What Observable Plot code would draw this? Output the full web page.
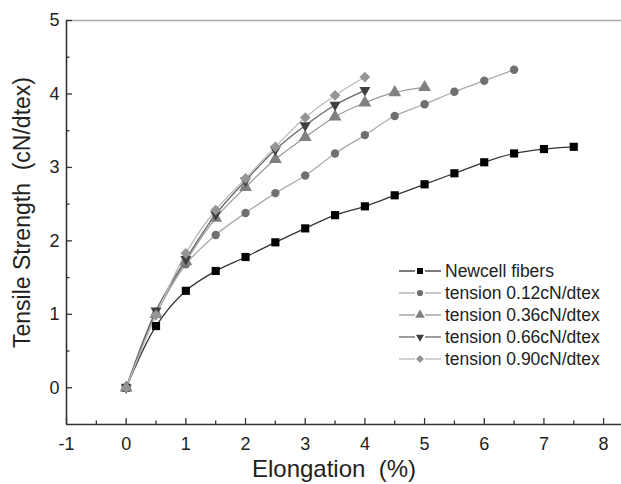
<!DOCTYPE html>
<html>
<head>
<meta charset="utf-8">
<script src="https://cdn.jsdelivr.net/npm/d3@7"></script>
<script src="https://cdn.jsdelivr.net/npm/@observablehq/plot@0.6"></script>
<style>
  html, body { margin: 0; padding: 0; background: #fff; }
  #wrap { position: relative; width: 621px; height: 484px; font-family: "Liberation Sans", Arial, sans-serif; }
  #legend { position: absolute; left: 399px; top: 260px; color: #222; font-size: 17.5px; }
  .row { display: flex; align-items: center; height: 22px; }
  .row svg { width: 42px; height: 22px; margin-right: 4px; }
</style>
</head>
<body>
<div id="wrap"></div>
<script>
// ---- data ----
const seriesNames = ["Newcell fibers", "tension 0.12cN/dtex", "tension 0.36cN/dtex", "tension 0.66cN/dtex", "tension 0.90cN/dtex"];
const xNewcell = [0, 0.5, 1, 1.5, 2, 2.5, 3, 3.5, 4, 4.5, 5, 5.5, 6, 6.5, 7, 7.5];
const yNewcell = [0, 0.84, 1.32, 1.59, 1.78, 1.98, 2.17, 2.35, 2.47, 2.62, 2.77, 2.92, 3.07, 3.19, 3.25, 3.28];
const x012 = [0, 0.5, 1, 1.5, 2, 2.5, 3, 3.5, 4, 4.5, 5, 5.5, 6, 6.5];
const y012 = [0, 1.0, 1.68, 2.08, 2.38, 2.65, 2.89, 3.19, 3.44, 3.70, 3.86, 4.03, 4.18, 4.33];
const x036 = [0, 0.5, 1, 1.5, 2, 2.5, 3, 3.5, 4, 4.5, 5];
const y036 = [0, 1.0, 1.72, 2.31, 2.73, 3.11, 3.41, 3.69, 3.88, 4.02, 4.09];
const x066 = [0, 0.5, 1, 1.5, 2, 2.5, 3, 3.5, 4];
const y066 = [0, 1.05, 1.75, 2.36, 2.82, 3.24, 3.57, 3.85, 4.05];
const x090 = [0, 0.5, 1, 1.5, 2, 2.5, 3, 3.5, 4];
const y090 = [0, 0.99, 1.83, 2.42, 2.85, 3.28, 3.68, 3.98, 4.23];
const xTicks = [-1, 0, 1, 2, 3, 4, 5, 6, 7, 8];
const xMinor = [-0.5, 0.5, 1.5, 2.5, 3.5, 4.5, 5.5, 6.5, 7.5];
const yTicks = [0, 1, 2, 3, 4, 5];
const yMinor = [0.5, 1.5, 2.5, 3.5, 4.5];
const xTitle = "Elongation \u00a0(%)";
const yTitle = "Tensile Strength \u00a0(cN/dtex)";

// ---- styles ----
const triDown = {draw(ctx, size) { const s = Math.sqrt(size / 0.6); const h = s * Math.sqrt(3) / 2; ctx.moveTo(-s/2, -h/3); ctx.lineTo(s/2, -h/3); ctx.lineTo(0, 2*h/3); ctx.closePath(); }};
const styles = [
  {symbol: d3.symbolSquare, fill: "#000", line: "#333", r: 4.6},
  {symbol: d3.symbolCircle, fill: "#707070", line: "#aaa", r: 4.2},
  {symbol: d3.symbolTriangle, fill: "#808080", line: "#9a9a9a", r: 4.8},
  {symbol: triDown, fill: "#404040", line: "#666", r: 4.8},
  {symbol: d3.symbolDiamond2, fill: "#959595", line: "#bbb", r: 4.8}
];

const xs = [xNewcell, x012, x036, x066, x090];
const ys = [yNewcell, y012, y036, y066, y090];
const data = seriesNames.map((name, i) => xs[i].map((x, j) => ({name, x, y: ys[i][j]})));

const W = 621, H = 484, mL = 66, mR = 0, mT = 20, mB = 60;
const pw = W - mL - mR, ph = H - mT - mB;
const font = "Liberation Sans, Arial, sans-serif";
const fmt = d => (d < 0 ? "-" : "") + Math.abs(d);

const marks = [];
marks.push(Plot.ruleY([5], {stroke: "#aaa", strokeWidth: 1.5}));
data.forEach((d, i) => {
  marks.push(Plot.line(d, {x: "x", y: "y", stroke: styles[i].line, strokeWidth: 1.3, curve: "catmull-rom"}));
});
data.forEach((d, i) => {
  marks.push(Plot.dot(d, {x: "x", y: "y", symbol: () => styles[i].symbol, r: styles[i].r, fill: styles[i].fill, stroke: "none"}));
});
marks.push(Plot.ruleX(xTicks, {x: d => d, stroke: "#333", strokeWidth: 1.3, insetTop: ph - 6}));
marks.push(Plot.ruleX(xMinor, {x: d => d, stroke: "#333", strokeWidth: 1.3, insetTop: ph - 3.5}));
marks.push(Plot.ruleY(yTicks, {y: d => d, stroke: "#333", strokeWidth: 1.3, insetRight: pw - 6}));
marks.push(Plot.ruleY(yMinor, {y: d => d, stroke: "#333", strokeWidth: 1.3, insetRight: pw - 3.5}));
marks.push(Plot.ruleX([-1], {stroke: "#333", strokeWidth: 1.6}));
marks.push(Plot.ruleY([-0.5], {stroke: "#333", strokeWidth: 1.6}));
marks.push(Plot.axisX(xTicks, {tickSize: 0, tickPadding: 13, fontSize: 18, fill: "#222", label: null, tickFormat: fmt}));
marks.push(Plot.axisY(yTicks, {tickSize: 0, tickPadding: 7, fontSize: 18, fill: "#222", label: null, tickFormat: fmt}));
marks.push(Plot.text([xTitle], {frameAnchor: "bottom", textAnchor: "middle", lineAnchor: "middle", dx: -10, dy: 45, fontSize: 24, fill: "#222", text: d => d}));
marks.push(Plot.text([yTitle], {frameAnchor: "left", textAnchor: "middle", lineAnchor: "middle", rotate: -90, dx: -44, dy: -10, fontSize: 23, fill: "#222", text: d => d}));

const chart = Plot.plot({
  width: W, height: H,
  marginLeft: mL, marginRight: mR, marginTop: mT, marginBottom: mB,
  x: {domain: [-1, 8.3], axis: null},
  y: {domain: [-0.5, 5], axis: null},
  style: {fontFamily: font, background: "#fff", overflow: "visible"},
  marks
});
const wrap = document.getElementById("wrap");
wrap.appendChild(chart);

const legend = document.createElement("div");
legend.id = "legend";
seriesNames.forEach((name, i) => {
  const row = document.createElement("div");
  row.className = "row";
  const s = styles[i];
  const sym = d3.symbol(s.symbol, Math.PI * s.r * s.r * 0.55)();
  row.innerHTML = `<svg viewBox="0 0 42 22"><line x1="0" x2="16" y1="11" y2="11" stroke="${s.line}" stroke-width="1.3"/><line x1="26" x2="42" y1="11" y2="11" stroke="${s.line}" stroke-width="1.3"/><path d="${sym}" transform="translate(21,11)" fill="${s.fill}"/></svg><span>${name}</span>`;
  legend.appendChild(row);
});
wrap.appendChild(legend);
</script>
</body>
</html>
